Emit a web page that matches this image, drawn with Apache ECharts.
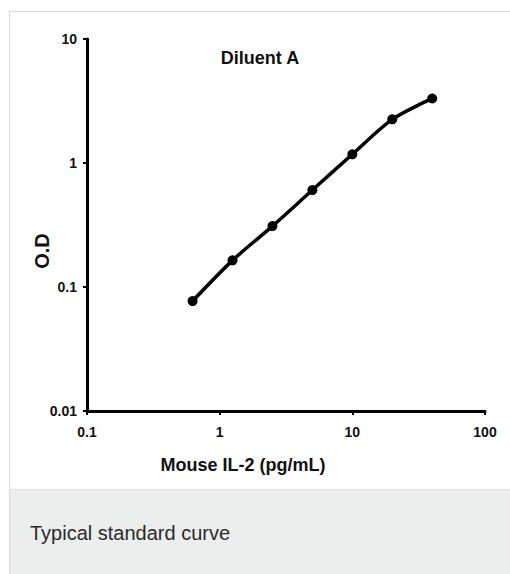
<!DOCTYPE html>
<html>
<head>
<meta charset="utf-8">
<script src="https://cdn.jsdelivr.net/npm/echarts@6/dist/echarts.min.js"></script>
<style>
  html, body { margin: 0; padding: 0; background: #fff; width: 510px; height: 574px; overflow: hidden; }
  #frame { position: absolute; left: 9px; top: 11px; width: 520px; height: 563px; border-left: 1px solid #dcdcdc; border-top: 1px solid #dcdcdc; }
  #chart { position: absolute; left: 0; top: 0; width: 500px; height: 477px; border-bottom: 1px solid #e2e2e2; }
  #caption { position: absolute; left: 0; top: 478px; width: 520px; height: 90px; background: #eceeee; font-family: "Liberation Sans", Arial, sans-serif; font-size: 20px; line-height: 20px; color: #2a2a2a; }
  #caption span { position: absolute; left: 20px; top: 33px; }
</style>
</head>
<body>
<div id="frame">
  <div id="chart"></div>
  <div id="caption"><span>Typical standard curve</span></div>
</div>
<script>
const concentrations = [0.625, 1.25, 2.5, 5, 10, 20, 40];
const odValues = [0.077, 0.164, 0.31, 0.605, 1.175, 2.25, 3.31];
const xTickLabels = ['0.1', '1', '10', '100'];
const yTickLabels = ['0.01', '0.1', '1', '10'];
const titleText = 'Diluent A';
const xAxisName = 'Mouse IL-2 (pg/mL)';
const yAxisName = 'O.D';

const FONT = '"Liberation Sans", Arial, sans-serif';
const chart = echarts.init(document.getElementById('chart'), null, { renderer: 'svg' });
const fmt = v => String(+v.toPrecision(3));
chart.setOption({
  animation: false,
  title: {
    text: titleText, left: 'center', top: 32,
    textStyle: { fontFamily: FONT, fontSize: 18, fontWeight: 'bold', color: '#111' }
  },
  grid: { left: 77, top: 27, width: 398, height: 372 },
  xAxis: {
    type: 'log', logBase: 10, min: 0.1, max: 100,
    name: xAxisName, nameLocation: 'middle', nameGap: 45, nameMoveOverlap: false,
    nameTextStyle: { fontFamily: FONT, fontSize: 18, fontWeight: 'bold', color: '#111', padding: [0, 86, 0, 0] },
    axisLine: { lineStyle: { color: '#000', width: 3 } },
    axisTick: { show: true, length: 4, lineStyle: { color: '#000', width: 2 } },
    axisLabel: { margin: 14, fontFamily: FONT, fontSize: 14, fontWeight: 'bold', color: '#111',
      formatter: v => xTickLabels.find(t => Math.abs(+t - v) / v < 1e-6) || fmt(v) },
    splitLine: { show: false }
  },
  yAxis: {
    type: 'log', logBase: 10, min: 0.01, max: 10,
    name: yAxisName, nameLocation: 'middle', nameGap: 35, nameRotate: 90, nameMoveOverlap: false,
    nameTextStyle: { fontFamily: FONT, fontSize: 20, fontWeight: 'bold', color: '#111', padding: [0, 52, 0, 0] },
    axisLine: { lineStyle: { color: '#000', width: 3 } },
    axisTick: { show: true, length: 4, lineStyle: { color: '#000', width: 2 } },
    axisLabel: { margin: 10, fontFamily: FONT, fontSize: 14, fontWeight: 'bold', color: '#111',
      formatter: v => yTickLabels.find(t => Math.abs(+t - v) / v < 1e-6) || fmt(v) },
    splitLine: { show: false }
  },
  series: [{
    type: 'line',
    data: concentrations.map((c, i) => [c, odValues[i]]),
    smooth: 0.3,
    symbol: 'circle', symbolSize: 10,
    lineStyle: { color: '#000', width: 3.5 },
    itemStyle: { color: '#000' }
  }]
});
</script>
</body>
</html>
